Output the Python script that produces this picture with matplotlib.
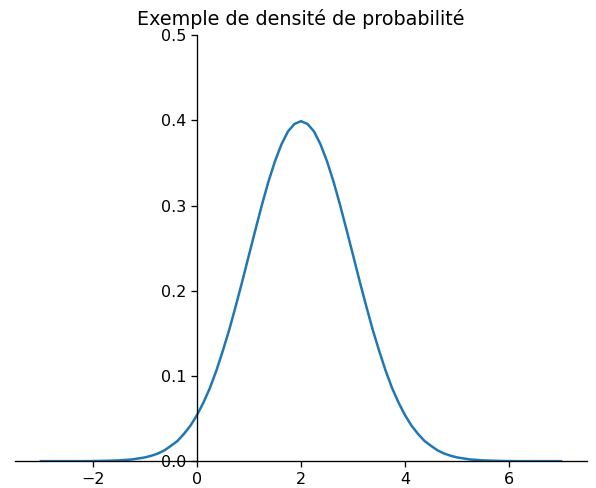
import numpy as np
import matplotlib.pyplot as plt

# density values
x_vals = [-3.0, -2.75, -2.5, -2.25, -2.0, -1.75, -1.5, -1.25, -1.0, -0.875,
          -0.75, -0.625, -0.5, -0.375, -0.25, -0.125, 0.0, 0.125, 0.25, 0.375,
          0.5, 0.625, 0.75, 0.875, 1.0, 1.125, 1.25, 1.375, 1.5, 1.625,
          1.75, 1.875, 2.0, 2.125, 2.25, 2.375, 2.5, 2.625, 2.75, 2.875,
          3.0, 3.125, 3.25, 3.375, 3.5, 3.625, 3.75, 3.875, 4.0, 4.125,
          4.25, 4.375, 4.5, 4.625, 4.75, 4.875, 5.0, 5.25, 5.5, 5.75,
          6.0, 6.25, 6.5, 6.75, 7.0]
density = [0.0, 0.0, 0.0, 0.0, 0.0001, 0.0004, 0.0009, 0.002, 0.0044, 0.0064,
           0.009, 0.0127, 0.018, 0.0237, 0.032, 0.0417, 0.054, 0.0688, 0.086, 0.1066,
           0.130, 0.1551, 0.183, 0.2119, 0.242, 0.2718, 0.301, 0.3282, 0.352, 0.3719,
           0.387, 0.3958, 0.399, 0.3958, 0.387, 0.3719, 0.352, 0.3282, 0.301, 0.2718,
           0.242, 0.2119, 0.183, 0.1551, 0.130, 0.1066, 0.086, 0.0688, 0.054, 0.0417,
           0.032, 0.0237, 0.018, 0.0127, 0.009, 0.0064, 0.0044, 0.002, 0.0009, 0.0004,
           0.0001, 0.0, 0.0, 0.0, 0.0]

fig = plt.figure(figsize=(5.96, 4.88), dpi=100)
ax = fig.add_axes([0.025, 0.055, 0.96, 0.873])

ax.plot(x_vals, density, color="#1f77b4", linewidth=1.8)

ax.set_xlim(-3.5, 7.5)
ax.set_ylim(0, 0.5)
ax.spines["left"].set_position(("data", 0))
ax.spines["bottom"].set_position(("data", 0))
ax.spines["top"].set_visible(False)
ax.spines["right"].set_visible(False)
for s in ("left", "bottom"):
    ax.spines[s].set_linewidth(0.95)
ax.tick_params(labelsize=11.5, length=4, width=0.95)
ax.set_title("Exemple de densité de probabilité", fontsize=13.8, pad=7)

fig.savefig("out.png", dpi=100)
